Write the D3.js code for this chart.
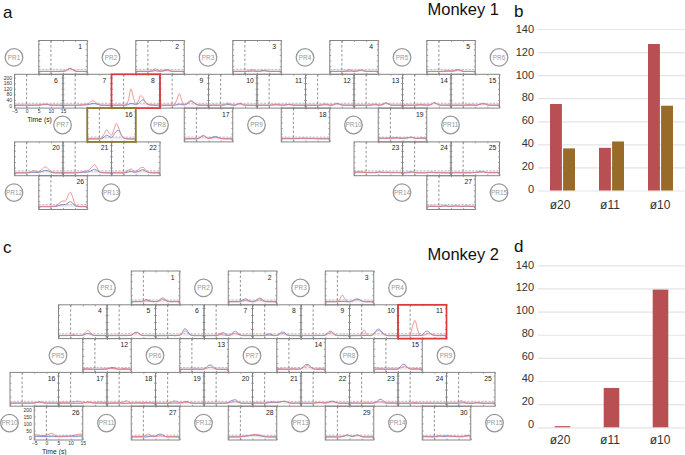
<!DOCTYPE html>
<meta charset="utf-8">
<style type="text/css">
body { margin: 0; background: #fff; }
text { font-family: "Liberation Sans", Arial, sans-serif; }
.mini path.domain { display: none; }
.mini .tick line { stroke: #666; stroke-width: 0.6; }
.mini .tick text { font-size: 5px; fill: #333; }
.pr circle { fill: #fff; stroke: #999; stroke-width: 1.3; }
.pr text { font-size: 6.4px; fill: #999; text-anchor: middle; }
.grid line { stroke: #e4e4e4; stroke-width: 1.2; }
.grid path { display: none; }
.bars .tick text { font-size: 11px; fill: #333; }
.bars .tick line { display: none; }
.bars path.domain { display: none; }
.cats .tick text { font-size: 12px; }
</style>
<body>
<svg id="svg" width="685" height="455"></svg>
</body>
<script src="https://cdn.jsdelivr.net/npm/d3@7/dist/d3.min.js"></script>
<script>
// Response traces, one value per second from -5 s to 15 s, plots in numeric order
const redA = [
  [2,2,2,2,2,2,2,2,2,3,4,8,18,26,16,6,3,2,2,2,2],
  [3,3,3,3,3,3,5,12,22,12,5,4,8,10,6,3,3,3,3,3,3],
  [3,3,3,3,3,3,4,10,15,9,4,3,5,6,4,3,3,3,3,3,3],
  [3,3,3,3,3,3,4,9,15,9,4,4,8,11,6,3,3,3,3,3,3],
  [2,2,2,2,2,2,3,4,6,8,5,4,8,12,7,3,2,2,2,2,2],
  [3,3,3,3,3,3,3,3,3,3,4,6,9,10,7,4,3,3,3,3,3],
  [2,2,2,2,2,2,3,4,6,8,12,20,34,30,16,8,3,2,2,2,2],
  [3,3,3,3,3,3,6,40,119,60,14,30,70,58,20,8,5,4,3,3,3],
  [3,3,3,3,3,3,8,45,85,35,8,14,30,35,22,8,4,3,3,3,3],
  [3,2,4,3,2,3,5,12,18,10,4,3,8,12,7,3,3,2,2,2,2],
  [3,3,3,3,3,3,4,7,10,8,4,3,4,7,6,3,3,3,3,3,3],
  [3,3,3,3,3,3,4,8,12,8,4,4,9,13,9,4,3,3,3,3,3],
  [3,3,3,3,3,3,3,6,10,9,4,4,8,16,12,5,3,3,3,3,3],
  [4,4,4,3,3,3,5,8,7,5,3,4,8,20,14,5,3,3,3,5,4],
  [3,3,3,3,3,3,4,6,6,4,3,4,8,12,12,5,3,3,3,3,3],
  [5,5,5,5,5,5,10,40,68,45,30,70,112,80,30,12,6,4,4,4,4],
  [4,4,4,4,4,4,8,22,28,14,8,7,12,14,10,6,5,4,4,4,4],
  [4,4,4,4,4,4,5,5,6,6,5,5,7,8,6,4,4,4,4,4,4],
  [9,9,8,8,9,10,9,8,9,10,8,9,11,14,14,8,7,9,10,9,8],
  [2,2,2,2,2,3,6,12,18,12,10,22,38,45,30,12,6,3,3,3,3],
  [3,3,3,3,3,3,4,6,10,14,18,26,44,62,38,12,6,3,3,3,3],
  [3,3,3,3,3,3,10,22,30,18,14,24,38,42,24,8,4,3,3,3,3],
  [6,7,7,6,5,5,4,4,4,3,7,8,6,5,4,3,3,4,4,3,3],
  [3,4,6,10,8,4,3,3,4,3,4,6,8,5,3,3,3,3,3,3,3],
  [4,4,4,4,4,4,3,3,3,4,5,7,8,9,6,4,4,4,4,4,5],
  [3,3,3,3,3,3,4,8,18,36,42,42,78,105,70,18,6,3,3,3,3],
  [4,4,5,5,4,4,6,7,5,4,5,7,6,4,4,5,7,6,4,4,4]
];
const blueA = [
  [2,2,2,2,2,2,2,2,2,2,3,6,16,24,16,5,2,2,2,2,2],
  [2,2,2,2,2,2,3,5,8,5,4,6,12,15,9,3,2,2,2,2,2],
  [2,2,2,2,2,2,3,4,5,4,3,4,8,10,6,3,2,2,2,2,2],
  [2,2,2,2,2,2,2,3,5,4,3,5,9,12,7,3,2,2,2,2,2],
  [2,2,2,2,2,2,2,3,4,4,4,6,12,16,9,3,2,2,2,2,2],
  [2,2,2,2,2,2,2,2,2,3,3,5,8,9,6,3,2,2,2,2,2],
  [2,2,2,2,2,2,2,3,4,5,6,9,14,15,10,5,2,2,2,2,2],
  [2,2,2,2,2,2,3,8,15,12,8,14,32,42,26,10,4,3,2,2,2],
  [2,2,2,2,2,2,3,6,10,7,5,10,24,30,20,8,3,2,2,2,2],
  [2,2,2,2,2,2,3,5,8,6,3,4,10,15,9,3,2,2,2,2,2],
  [2,2,2,2,2,2,3,5,5,4,3,3,6,8,6,3,2,2,2,2,2],
  [2,2,2,2,2,2,2,4,6,5,3,4,10,14,10,4,2,2,2,2,2],
  [2,2,2,2,2,2,2,3,5,5,3,4,10,20,14,5,2,2,2,2,2],
  [2,2,2,2,2,2,3,4,4,3,3,4,10,22,15,5,2,2,2,2,2],
  [2,2,2,2,2,2,2,3,3,3,3,4,9,14,13,5,2,2,2,2,2],
  [3,3,3,3,3,3,5,18,30,22,14,34,58,65,34,10,4,3,3,3,3],
  [5,5,5,5,5,5,7,18,26,14,8,12,18,20,14,8,5,5,4,4,4],
  [7,7,7,6,6,6,6,7,8,9,8,7,6,6,5,5,5,5,5,5,5],
  [8,8,8,7,8,8,10,12,12,8,7,8,10,15,15,9,6,8,9,8,7],
  [2,2,2,2,2,2,3,5,7,5,5,10,16,20,16,7,3,2,2,2,2],
  [2,2,2,2,2,2,3,4,5,6,8,12,20,28,20,8,3,2,2,2,2],
  [2,2,2,2,2,2,4,10,14,8,7,12,20,25,16,6,3,2,2,2,2],
  [8,8,8,8,7,5,4,4,4,5,8,7,5,5,7,5,4,4,4,4,4],
  [2,2,3,5,8,6,3,2,2,3,3,4,4,3,3,4,3,2,2,2,2],
  [3,3,3,3,3,3,3,3,3,4,5,7,10,10,7,4,3,3,3,3,3],
  [2,2,2,2,2,2,3,4,8,14,16,18,28,38,28,8,3,2,2,2,2],
  [5,5,5,5,4,4,4,7,8,5,4,5,8,6,4,4,5,5,4,4,4]
];
const redC = [
  [4,4,4,4,4,6,10,8,5,4,4,5,14,20,14,5,4,4,4,4,4],
  [3,3,3,3,3,4,8,14,10,5,3,5,14,18,12,5,3,3,3,3,3],
  [4,4,4,4,4,6,20,52,28,6,4,6,14,20,18,8,4,3,3,3,3],
  [3,3,3,3,3,5,10,7,4,3,8,26,40,28,10,4,3,3,3,3,3],
  [5,5,4,5,6,5,4,5,5,4,6,18,26,20,8,4,4,5,4,4,4],
  [3,3,3,3,3,4,5,5,3,4,6,18,35,30,12,4,3,4,4,3,3],
  [5,5,4,4,5,6,8,10,8,5,5,8,16,20,12,6,4,6,5,4,4],
  [4,4,4,4,4,5,6,6,4,3,4,10,20,18,8,4,3,5,4,4,4],
  [4,4,5,4,4,5,5,5,4,4,6,15,25,20,8,4,4,5,4,4,4],
  [3,3,3,4,5,14,45,14,4,3,14,32,40,30,14,6,3,3,3,3,3],
  [4,3,3,3,3,8,70,112,50,6,4,8,16,20,14,7,4,5,6,5,4],
  [12,10,9,7,5,4,4,4,6,8,8,10,10,9,6,5,8,10,9,7,5],
  [4,4,4,4,5,6,6,5,4,4,5,10,18,20,12,5,4,4,4,4,4],
  [12,10,8,6,6,6,8,8,6,5,8,18,28,30,18,8,5,8,10,6,5],
  [16,14,12,8,6,5,5,6,6,5,6,14,22,25,16,8,6,10,10,7,5],
  [4,4,5,4,3,3,3,3,4,4,5,8,12,10,6,4,3,4,4,3,3],
  [10,10,10,10,10,11,13,15,18,14,10,8,8,9,8,8,10,12,11,9,8],
  [6,5,6,7,6,8,8,14,22,10,5,4,5,6,6,8,9,8,6,5,5],
  [4,4,3,3,4,5,8,16,20,14,8,6,8,10,7,4,3,3,3,3,3],
  [4,4,4,4,3,3,3,3,4,4,6,9,13,14,10,5,3,3,3,3,3],
  [6,5,5,4,4,4,8,12,14,12,10,12,15,16,14,7,4,3,4,4,4],
  [4,4,3,3,3,5,7,9,9,6,5,7,12,14,10,6,4,3,4,3,3],
  [6,5,5,4,4,4,5,6,5,4,5,7,12,12,8,4,5,6,5,4,4],
  [4,4,3,3,4,5,7,8,6,4,3,4,4,5,4,3,4,4,3,3,3],
  [4,4,3,3,4,8,22,14,6,4,3,4,6,7,5,4,3,3,4,4,3],
  [22,18,16,14,14,18,22,30,24,12,8,8,10,9,8,10,14,18,22,24,22],
  [6,6,6,6,6,8,14,25,16,8,7,9,12,10,6,5,6,6,5,5,5],
  [4,4,4,4,4,5,8,10,12,15,20,22,22,18,12,7,5,4,4,4,4],
  [4,4,4,4,4,4,5,8,12,18,14,8,10,16,14,7,4,4,4,4,4],
  [6,5,5,5,4,4,5,8,10,12,14,10,8,10,8,6,5,6,8,10,8]
];
const blueC = [
  [5,5,5,5,5,8,20,15,8,5,5,8,22,31,20,7,5,5,5,5,5],
  [5,5,5,5,5,8,16,25,18,8,5,8,22,30,20,7,5,5,5,5,5],
  [4,4,4,4,4,4,5,6,5,4,4,8,18,25,20,9,5,4,4,4,4],
  [4,4,4,4,4,4,4,4,4,4,6,14,20,16,7,4,4,4,4,4,4],
  [3,3,3,3,3,3,3,3,3,4,6,18,28,22,8,4,3,3,3,3,3],
  [3,3,3,3,3,3,4,4,3,4,8,25,52,42,16,5,3,3,3,3,3],
  [3,3,3,3,3,4,8,20,24,12,5,10,26,35,20,8,3,3,3,3,3],
  [3,3,3,3,3,4,10,15,10,4,4,14,28,28,12,5,3,3,3,3,3],
  [3,3,3,3,3,3,3,4,4,4,8,22,35,28,10,4,3,3,3,3,3],
  [3,3,3,3,3,3,4,4,3,4,18,40,50,38,18,7,3,3,3,3,3],
  [3,3,3,3,3,3,3,4,4,3,8,28,35,24,10,5,3,3,3,3,3],
  [4,4,4,4,4,4,4,4,4,4,6,12,18,14,7,4,4,4,4,4,4],
  [4,4,4,4,4,4,5,6,5,4,6,18,32,35,18,7,4,4,4,4,4],
  [4,4,4,4,4,4,5,6,5,5,8,22,38,40,22,9,5,4,4,4,4],
  [5,5,5,5,5,5,5,5,5,5,8,24,40,36,16,6,5,5,5,5,5],
  [4,4,4,4,4,4,4,4,4,4,5,8,12,10,6,4,4,4,4,4,4],
  [3,3,3,3,3,3,3,3,3,3,4,8,12,10,6,4,3,3,3,3,3],
  [3,3,3,3,3,3,3,3,3,3,3,4,5,5,4,3,4,5,4,3,3],
  [3,3,3,3,3,3,3,4,5,4,4,8,14,13,8,4,3,3,3,3,3],
  [3,3,3,3,3,3,3,3,3,4,8,18,26,28,16,6,3,3,3,3,3],
  [4,4,4,4,3,3,4,8,10,9,8,10,15,18,14,6,4,3,4,4,4],
  [3,3,3,3,3,3,5,7,8,6,5,9,15,18,12,6,3,3,3,3,3],
  [4,4,4,4,3,3,3,3,3,3,5,12,26,32,18,6,4,4,4,4,4],
  [3,3,3,3,3,3,3,3,3,3,4,3,3,3,3,3,3,3,3,3,3],
  [3,3,3,3,3,4,5,6,4,3,3,4,5,6,4,3,3,3,3,3,3],
  [8,8,8,7,7,7,8,8,8,6,6,6,7,8,9,9,8,8,9,10,9],
  [4,4,4,4,4,4,4,6,8,8,10,20,24,18,8,4,4,4,4,4,4],
  [4,4,4,4,4,5,8,10,12,14,16,18,16,12,8,5,4,4,4,4,4],
  [4,4,4,4,4,4,4,6,10,18,14,8,10,18,14,6,4,4,4,4,4],
  [8,8,6,5,5,6,8,12,8,6,8,10,8,7,6,5,6,8,12,16,10]
];
const timeValues = d3.range(-5, 16);

// Bar charts
const categories = ["ø20", "ø11", "ø10"];
const redB = [75, 37, 127];
const brownB = [36.5, 42.5, 73.5];
const redD = [1, 34, 119];
const barTicks = [0, 20, 40, 60, 80, 100, 120, 140];

// Axis ticks of the small plots
const timeTicks = [-5, 0, 5, 10, 15];
const rateTicksA = [0, 40, 80, 120, 160, 200];
const rateTicksC = [0, 50, 100, 150, 200];
const threshold = 17;

// Where plots and PR circles sit, in grid columns, one list per row
const plotRowsA = [[.5, 2.5, 4.5, 6.5, 8.5], [0, 1, 2, 3, 4, 5, 6, 7, 8, 9], [1.5, 3.5, 5.5, 7.5], [0, 1, 2, 7, 8, 9], [.5, 8.5]];
const plotRowsC = [[2.5, 4.5, 6.5], [1, 2, 3, 4, 5, 6, 7, 8], [1.5, 3.5, 5.5, 7.5], [0, 1, 2, 3, 4, 5, 6, 7, 8, 9], [.5, 2.5, 4.5, 6.5, 8.5]];
const prRowsA = [[0, 2, 4, 6, 8, 10], [], [1, 3, 5, 7, 9], [], [0, 2, 8, 10]];
const prRowsC = [[2, 4, 6, 8], [], [1, 3, 5, 7, 9], [], [0, 2, 4, 6, 8, 10]];

const svg = d3.select("#svg");
const plotW = 48.5, plotH = 33.8;

const xTime = d3.scaleLinear().domain([-5, 15]).range([0, plotW]);
const yRate = d3.scaleLinear().domain([-18, 223]).range([plotH, 0]);
const trace = d3.line().x((d, i) => xTime(timeValues[i])).y(d => yRate(d)).curve(d3.curveMonotoneX);

function drawPanel(opts) {
  const col = d3.scaleLinear().domain([0, 1]).range([opts.x0, opts.x0 + plotW]);
  const row = d3.scaleLinear().domain([0, 1]).range([opts.y0, opts.y0 + plotH]);
  let n = 0;

  opts.plotRows.forEach((cols, r) => cols.forEach(c => {
    const num = ++n;
    const g = svg.append("g").attr("class", "mini")
      .attr("transform", "translate(" + col(c) + "," + row(r) + ")");

    g.append("rect").attr("x", 0).attr("y", yRate(threshold))
      .attr("width", plotW).attr("height", yRate(0) - yRate(threshold)).attr("fill", "#ececec");
    g.append("line").attr("x1", 0).attr("x2", plotW).attr("y1", yRate(threshold)).attr("y2", yRate(threshold))
      .attr("stroke", "#999").attr("stroke-width", 0.6).attr("stroke-dasharray", "2,1.5");
    g.append("line").attr("x1", xTime(0)).attr("x2", xTime(0)).attr("y1", 0).attr("y2", plotH)
      .attr("stroke", "#666").attr("stroke-width", 0.7).attr("stroke-dasharray", "2.5,2");

    g.append("path").attr("d", trace(opts.blue[num - 1])).attr("fill", "none").attr("stroke", "#6a72c8").attr("stroke-width", 0.8);
    g.append("path").attr("d", trace(opts.red[num - 1])).attr("fill", "none").attr("stroke", "#ee7a7c").attr("stroke-width", 0.8);

    const labelled = num === opts.labelPlot;
    g.append("g").attr("transform", "translate(0," + plotH + ")")
      .call(d3.axisBottom(xTime).tickValues(timeTicks).tickSizeInner(-1.5).tickSizeOuter(0).tickPadding(opts.xPad)
        .tickFormat(labelled ? d3.format("d") : ""));
    g.append("g").call(d3.axisTop(xTime).tickValues(timeTicks).tickSizeInner(-1.5).tickSizeOuter(0).tickFormat(""));
    g.append("g").call(d3.axisLeft(yRate).tickValues(opts.rateTicks).tickSizeInner(-1.5).tickSizeOuter(0).tickPadding(2.5)
        .tickFormat(labelled ? d3.format("d") : ""));
    g.append("g").attr("transform", "translate(" + plotW + ",0)")
      .call(d3.axisRight(yRate).tickValues(opts.rateTicks).tickSizeInner(-1.5).tickSizeOuter(0).tickFormat(""));

    g.append("rect").attr("width", plotW).attr("height", plotH)
      .attr("fill", "none").attr("stroke", "#858585").attr("stroke-width", 1);

    g.append("text").attr("x", plotW - 7).attr("y", 8.5).attr("text-anchor", "middle")
      .attr("font-size", 6.8).attr("fill", "#222").text(num);

    if (labelled) {
      svg.append("text").attr("x", col(c) + opts.timeDx).attr("y", row(r) + plotH + opts.timeDy)
        .attr("text-anchor", "middle").attr("font-size", 6.8).attr("fill", "#222").text("Time (s)");
    }
  }));

  // Highlight boxes go on top of the frames
  opts.boxes.forEach(b => {
    svg.append("rect").attr("x", col(b.col)).attr("y", row(b.row)).attr("width", plotW).attr("height", plotH)
      .attr("fill", "none").attr("stroke", b.color).attr("stroke-width", 1.7);
  });

  let p = 0;
  opts.prRows.forEach((cols, r) => cols.forEach(c => {
    const pr = svg.append("g").attr("class", "pr")
      .attr("transform", "translate(" + (col(c) - 0.5) + "," + (row(r) + plotH / 2) + ")");
    pr.append("circle").attr("r", 8.8);
    pr.append("text").attr("dy", "0.35em").text("PR" + (++p));
  }));
}

drawPanel({
  x0: 14.5, y0: 40.5, plotRows: plotRowsA, prRows: prRowsA, red: redA, blue: blueA,
  rateTicks: rateTicksA, labelPlot: 6, xPad: 1.5, timeDx: 25, timeDy: 13.5,
  boxes: [{col: 2, row: 1, color: "#dc3a3c"}, {col: 1.5, row: 2, color: "#8e7d2c"}]
});
drawPanel({
  x0: 10, y0: 271, plotRows: plotRowsC, prRows: prRowsC, red: redC, blue: blueC,
  rateTicks: rateTicksC, labelPlot: 26, xPad: 1, timeDx: 20, timeDy: 13.5,
  boxes: [{col: 8, row: 1, color: "#dc3a3c"}]
});

function drawBars(opts) {
  const y = d3.scaleLinear().domain([0, 140]).range([opts.y0, opts.y1]);
  svg.append("g").attr("class", "grid").attr("transform", "translate(538,0)")
    .call(d3.axisLeft(y).tickValues(barTicks).tickSize(-147).tickFormat(""));
  // The labels sit a little above their grid lines towards the bottom of the axis
  const yLabel = d3.scaleLinear().domain([0, 140]).range(opts.labelRange);
  svg.append("g").attr("class", "bars").attr("transform", "translate(535,0)")
    .call(d3.axisLeft(yLabel).tickValues(barTicks).tickSize(0).tickPadding(1));

  const xBand = d3.scaleBand().domain(categories).range([538, 685]);
  const inner = d3.scaleBand().domain(opts.series.map((s, i) => i)).range([0, opts.groupW]).paddingInner(opts.gap);
  opts.series.forEach((s, i) => {
    svg.append("g").selectAll("rect").data(s.values).enter().append("rect")
      .attr("x", (d, j) => xBand(categories[j]) + (xBand.bandwidth() - opts.groupW) / 2 + inner(i))
      .attr("y", d => y(d))
      .attr("width", inner.bandwidth())
      .attr("height", d => y(0) - y(d))
      .attr("fill", s.color);
  });

  const xLabels = d3.scaleBand().domain(categories).range([535, 685]);
  svg.append("g").attr("class", "bars cats").attr("transform", "translate(0," + opts.y0 + ")")
    .call(d3.axisBottom(xLabels).tickSize(0).tickPadding(opts.catPad));
}

drawBars({
  y0: 190.5, y1: 29, labelRange: [188.5, 29], catPad: 9.5, groupW: 25, gap: 0.09,
  series: [{values: redB, color: "#b85053"}, {values: brownB, color: "#986c28"}]
});
drawBars({
  y0: 427.3, y1: 265.3, labelRange: [424, 264.5], catPad: 8, groupW: 15.6, gap: 0,
  series: [{values: redD, color: "#b85053"}]
});

// Panel letters and titles
[["a", 3, 18], ["b", 514, 17], ["c", 3, 253], ["d", 514, 252]].forEach(t => {
  svg.append("text").attr("x", t[1]).attr("y", t[2]).attr("font-size", 17).attr("fill", "#111").text(t[0]);
});
[["Monkey 1", 15], ["Monkey 2", 260]].forEach(t => {
  svg.append("text").attr("x", 427.5).attr("y", t[1]).attr("font-size", 16.5).attr("fill", "#111").text(t[0]);
});
</script>
